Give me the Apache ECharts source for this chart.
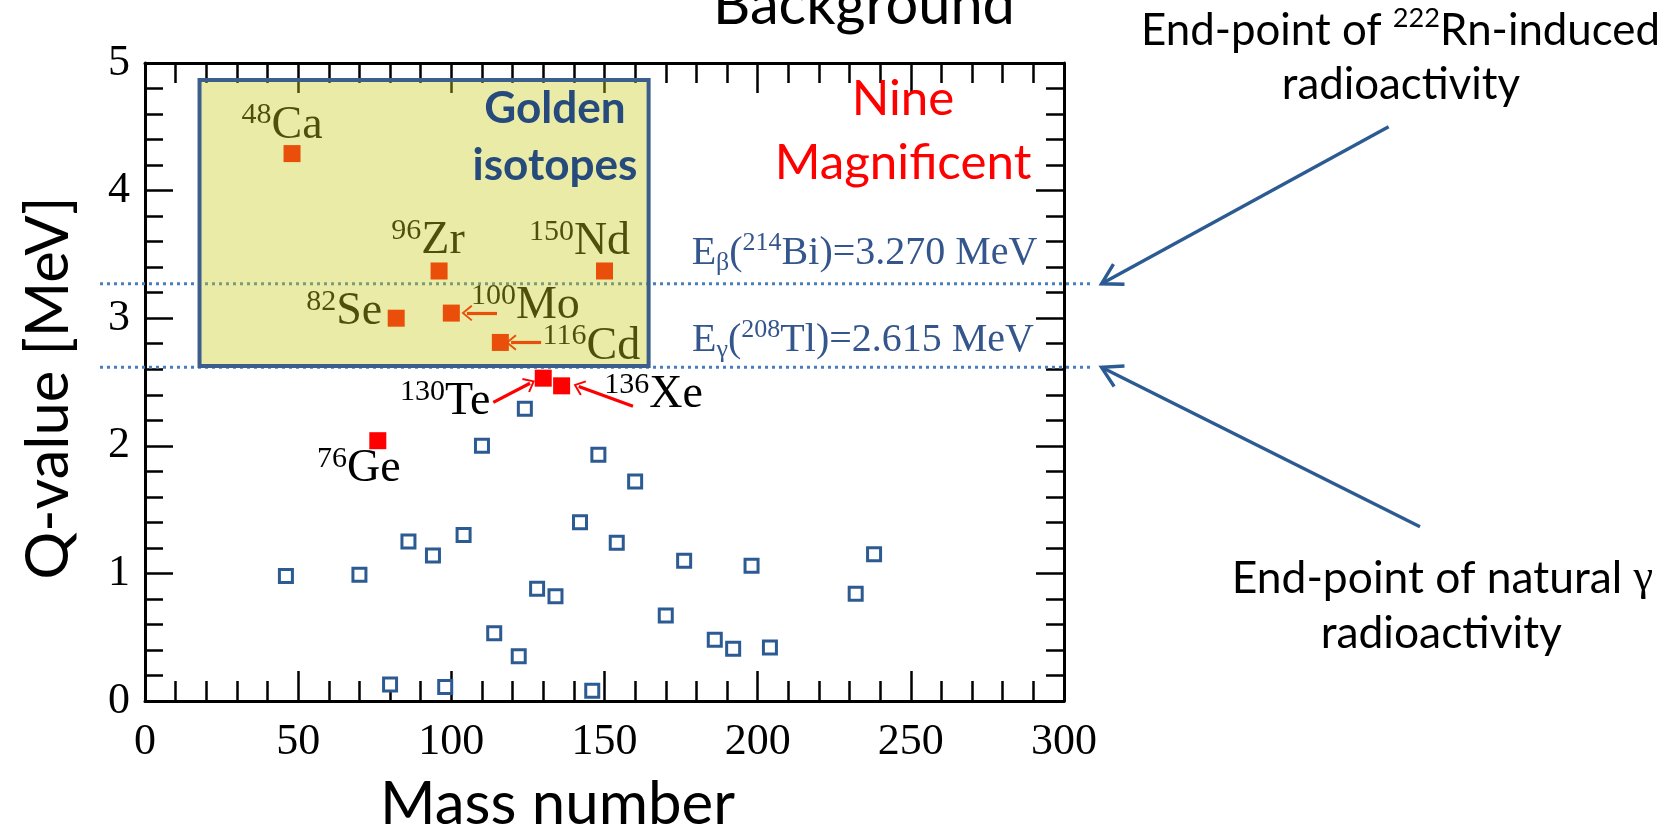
<!DOCTYPE html>
<html>
<head>
<meta charset="utf-8">
<script src="https://cdn.jsdelivr.net/npm/echarts@6.0.0/dist/echarts.min.js"></script>
<style>
html,body{margin:0;padding:0;background:#ffffff;overflow:hidden;}
#chart{width:1671px;height:826px;}
</style>
</head>
<body>
<div id="chart"></div>
<script>
// ---------------- data ----------------
const otherMass = [46,70,80,86,94,98,104,110,114,122,124,128,134,142,146,148,154,160,170,176,186,192,198,204,232,238];
const otherQ    = [0.98,0.99,0.13,1.25,1.14,0.11,1.30,2.00,0.53,0.35,2.29,0.88,0.82,1.40,0.08,1.93,1.24,1.72,0.67,1.10,0.48,0.41,1.06,0.42,0.84,1.15];
const nineElem  = ['Ca','Ge','Se','Zr','Mo','Cd','Te','Xe','Nd'];
const nineMass  = [48,76,82,96,100,116,130,136,150];
const nineQ     = [4.29,2.04,3.00,3.37,3.04,2.81,2.53,2.47,3.37];
const bgKind    = ['β','γ'];
const bgSource  = ['214Bi','208Tl'];
const bgQ       = [3.270, 2.615];
const xTickValues = [0,50,100,150,200,250,300];
const yTickValues = [0,1,2,3,4,5];

// ---------------- layout / style ----------------
const W = 1671, H = 826;
const SERIF = 'Liberation Serif', SANS = 'Lato';
const BLUE = '#2c5a92';
const LABEL_BLUE = '#34568d';
const GRID = {left:145, top:63, right:W-1064, bottom:H-701};
const LINE_GRID = {left:100, top:63, right:W-1094, bottom:H-701};
const BOX = {x0:17.8, x1:164.4, qTop:4.867, qBottom:2.625};
const labelOffset = {Ca:[-10,-28], Ge:[-19,28], Se:[-52,-6], Zr:[-11,-30], Mo:[74,-7], Cd:[91,4], Te:[-98,24], Xe:[92,9], Nd:[-25,-29]};
const arrowRel = {
  Mo:{from:[14.9,0], to:[5.1,0]},
  Cd:{from:[13.3,0], to:[3.5,0]},
  Te:{from:[-16.3,-0.19], to:[-4.3,-0.04]},
  Xe:{from:[23.3,-0.16], to:[5.6,-0.005]}
};
const chevron = 'path://M0,0 L10,12 L8.2,13.6 L0,3.6 L-8.2,13.6 L-10,12 Z';

const xMin = xTickValues[0], xMax = xTickValues[xTickValues.length-1], xStep = xTickValues[1]-xTickValues[0];
const yMin = yTickValues[0], yMax = yTickValues[yTickValues.length-1], yStep = yTickValues[1]-yTickValues[0];

function frameAxis(isX, pos, showLabel) {
  return {
    type:'value', gridIndex:0, position:pos,
    min: isX?xMin:yMin, max: isX?xMax:yMax, interval: isX?xStep:yStep,
    axisLine:{show:true, onZero:false, lineStyle:{color:'#000', width:3}},
    axisTick:{show:true, inside:true, length: isX?30:28, lineStyle:{color:'#000', width:2.5}},
    minorTick:{show:true, splitNumber:5, length: isX?20:18, lineStyle:{color:'#000', width:2.5}},
    splitLine:{show:false}, minorSplitLine:{show:false},
    axisLabel:{show:showLabel, margin: isX?19:15, color:'#000', fontFamily:SERIF, fontSize:44,
               showMinLabel:true, showMaxLabel:true},
    axisPointer:{show:false}
  };
}

const nineData = nineMass.map((m,i)=>({
  value:[m, nineQ[i]],
  label:{offset: labelOffset[nineElem[i]]}
}));

const arrowData = [];
nineElem.forEach((el,i)=>{
  const a = arrowRel[el];
  if (!a) return;
  arrowData.push([
    {coord:[nineMass[i]+a.from[0], nineQ[i]+a.from[1]]},
    {coord:[nineMass[i]+a.to[0], nineQ[i]+a.to[1]]}
  ]);
});

const chart = echarts.init(document.getElementById('chart'), null, {renderer:'canvas', width:W, height:H});

const option = {
  animation:false,
  backgroundColor:'#ffffff',
  grid:[
    {left:GRID.left, top:GRID.top, right:GRID.right, bottom:GRID.bottom, containLabel:false},
    {left:LINE_GRID.left, top:LINE_GRID.top, right:LINE_GRID.right, bottom:LINE_GRID.bottom, containLabel:false}
  ],
  xAxis:[
    frameAxis(true,'bottom',true),
    frameAxis(true,'top',false),
    {type:'value', gridIndex:1, min:0, max:1, show:false}
  ],
  yAxis:[
    frameAxis(false,'left',true),
    frameAxis(false,'right',false),
    {type:'value', gridIndex:1, min:yMin, max:yMax, show:false}
  ],
  series:[
    ...bgQ.map(q=>({
      type:'line', xAxisIndex:2, yAxisIndex:2, z:1, silent:true, symbol:'none',
      data:[[0,q],[1,q]],
      lineStyle:{color:'#4a7ebb', width:3, type:[3,4], cap:'butt'}
    })),
    {
      type:'scatter', name:'other', xAxisIndex:0, yAxisIndex:0, z:2, silent:true,
      symbol:'rect', symbolSize:13,
      itemStyle:{color:'#ffffff', borderColor:BLUE, borderWidth:3, opacity:1},
      data: otherMass.map((m,i)=>[m, otherQ[i]])
    },
    {
      type:'scatter', name:'nine', xAxisIndex:0, yAxisIndex:0, z:3, silent:true,
      symbol:'rect', symbolSize:17,
      itemStyle:{color:'#ff0000', opacity:1},
      label:{
        show:true, position:'inside', align:'center', verticalAlign:'middle', color:'#000',
        formatter: p => '{s|' + nineMass[p.dataIndex] + '}{m|' + nineElem[p.dataIndex] + '}',
        rich:{
          s:{fontFamily:SERIF, fontSize:30, lineHeight:30, verticalAlign:'top', color:'#000'},
          m:{fontFamily:SERIF, fontSize:46, lineHeight:50, color:'#000'}
        }
      },
      data: nineData,
      markLine:{
        silent:true, animation:false, z:4,
        symbol:['none', chevron], symbolSize:[16,11],
        label:{show:false},
        lineStyle:{color:'#ff0000', width:3.2, type:'solid'},
        data: arrowData
      }
    },
    {
      type:'custom', name:'golden-box', xAxisIndex:0, yAxisIndex:0, z:10, silent:true, clip:false,
      encode:{x:[0,2], y:[1,3]},
      data:[[BOX.x0, BOX.qTop, BOX.x1, BOX.qBottom]],
      renderItem:(params, api)=>{
        const p0 = api.coord([api.value(0), api.value(1)]);
        const p1 = api.coord([api.value(2), api.value(3)]);
        return {type:'rect', shape:{x:p0[0], y:p0[1], width:p1[0]-p0[0], height:p1[1]-p0[1]},
                style:{fill:'rgba(199,204,26,0.39)', stroke:'#3b5e8c', lineWidth:4}};
      }
    }
  ]
};
chart.setOption(option);

// ---------------- free texts and annotation arrows ----------------
const mctx = document.createElement('canvas').getContext('2d');
function measure(text, family, weight, size) {
  mctx.font = (weight||'normal') + ' ' + size + 'px "' + family + '"';
  return mctx.measureText(text).width;
}
function fit(text, family, weight, width) { return 100*width/measure(text, family, weight, 100); }
const K_SANS = 0.29, K_SERIF = 0.24;

const g = [];
function plain(text, cx, base, size, opts) {
  opts = opts || {};
  const fam = opts.family || SANS;
  const k = fam === SERIF ? K_SERIF : K_SANS;
  g.push({type:'text', z:opts.z||20, silent:true, x:cx, y:base - k*size,
    style:{text:text, fontFamily:fam, fontSize:size, fontWeight:opts.weight||'normal',
           fill:opts.color||'#000', align:opts.align||'center', verticalAlign:'middle'}});
}

// Background (cut at top)
plain('Background', 864, 22, fit('Background', SANS, 'normal', 302));

// Rn annotation
(function(){
  const a = 'End-point of ', b = '222', c = 'Rn-induced';
  const w100 = measure(a+c, SANS, 'normal', 100) + 0.62*measure(b, SANS, 'normal', 100);
  const S = 100*519/w100;
  g.push({type:'text', z:20, silent:true, x:1400.5, y:44 - K_SANS*S,
    style:{text:'{m|'+a+'}{s|'+b+'}{m|'+c+'}', align:'center', verticalAlign:'middle',
      rich:{m:{fontFamily:SANS, fontSize:S, lineHeight:S*1.2, fill:'#000', color:'#000'},
            s:{fontFamily:SANS, fontSize:0.62*S, lineHeight:0.62*S*1.2, verticalAlign:'top', fill:'#000', color:'#000'}}}});
  plain('radioactivity', 1401, 98, S);
})();

// natural gamma annotation
(function(){
  const a = 'End-point of natural ', b = 'γ';
  const w100 = measure(a, SANS, 'normal', 100) + measure(b, SERIF, 'normal', 100);
  const S = 100*421.6/w100;
  g.push({type:'text', z:20, silent:true, x:1442.5, y:591.7 - K_SANS*S,
    style:{text:'{m|'+a+'}{g|'+b+'}', align:'center', verticalAlign:'middle',
      rich:{m:{fontFamily:SANS, fontSize:S, lineHeight:S*1.2, fill:'#000', color:'#000'},
            g:{fontFamily:SERIF, fontSize:S, lineHeight:S*1.2, fill:'#000', color:'#000'}}}});
  plain('radioactivity', 1441.3, 646.7, S);
})();

// Golden isotopes
(function(){
  const S = fit('isotopes', SANS, 'bold', 165);
  plain('Golden', 555, 121.7, S, {weight:'bold', color:'#254a7b', z:30});
  plain('isotopes', 555, 178.3, S, {weight:'bold', color:'#254a7b', z:30});
})();

// Nine Magnificent
(function(){
  const S = fit('Magnificent', SANS, 'normal', 256.7);
  plain('Nine', 903, 113.3, S, {color:'#ff0000'});
  plain('Magnificent', 903, 177.7, S, {color:'#ff0000'});
})();

// axis titles
(function(){
  const S = fit('Mass number', SANS, 'normal', 355);
  plain('Mass number', 557.5, 822, S);
  const S2 = fit('Q-value [MeV]', SANS, 'normal', 383);
  g.push({type:'text', z:20, silent:true, x:66 - K_SANS*S2, y:388, rotation:Math.PI/2,
    style:{text:'Q-value [MeV]', fontFamily:SANS, fontSize:S2, fill:'#000', align:'center', verticalAlign:'middle'}});
})();

// background line labels
bgQ.forEach((q,i)=>{
  const m = bgSource[i].match(/^(\d+)(.*)$/);
  const txt = '{m|E}{sub|' + bgKind[i] + '}{m|(}{sup|' + m[1] + '}{m|' + m[2] + ')=' + q.toFixed(3) + ' MeV}';
  const p = chart.convertToPixel({gridIndex:0}, [xMax, q]);
  const S = 40;
  const base = p[1] - (i===0 ? 21 : 17.6);
  g.push({type:'text', z:20, silent:true, x: i===0 ? 1037.5 : 1034, y: base - K_SERIF*S,
    style:{text:txt, align:'right', verticalAlign:'middle', fill:LABEL_BLUE,
      rich:{m:{fontFamily:SERIF, fontSize:S, lineHeight:46, fill:LABEL_BLUE, color:LABEL_BLUE},
            sup:{fontFamily:SERIF, fontSize:26, lineHeight:26, verticalAlign:'top', fill:LABEL_BLUE, color:LABEL_BLUE},
            sub:{fontFamily:SERIF, fontSize:26, lineHeight:24, verticalAlign:'bottom', fill:LABEL_BLUE, color:LABEL_BLUE}}}});
});

// big blue arrows pointing to line ends
const arrowTails = [[1388.6,126.7],[1420,526.7]];
bgQ.forEach((q,i)=>{
  const e = chart.convertToPixel({gridIndex:1}, [1, q]);
  const tip = [e[0]+7.5, e[1]];
  const tail = arrowTails[i];
  const dx = tail[0]-tip[0], dy = tail[1]-tip[1], L = Math.hypot(dx,dy);
  const ux = dx/L, uy = dy/L, ang = 30*Math.PI/180, len = 23;
  const r = (s)=>[tip[0] + len*(ux*Math.cos(s*ang) - uy*Math.sin(s*ang)), tip[1] + len*(ux*Math.sin(s*ang) + uy*Math.cos(s*ang))];
  g.push({type:'line', z:20, silent:true, shape:{x1:tail[0], y1:tail[1], x2:tip[0], y2:tip[1]},
          style:{stroke:BLUE, lineWidth:3.4}});
  g.push({type:'polyline', z:20, silent:true, shape:{points:[r(1), tip, r(-1)]},
          style:{stroke:BLUE, lineWidth:3.4, fill:null}});
});

chart.setOption({graphic:g});
</script>
</body>
</html>
